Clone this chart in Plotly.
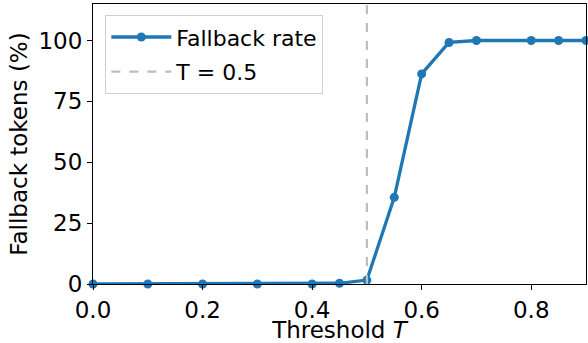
import plotly.graph_objects as go

thresholds = [0.0, 0.1, 0.2, 0.3, 0.4, 0.45, 0.5, 0.55, 0.6, 0.65, 0.7, 0.8, 0.85, 0.9]
fallback_rate = [0.0, 0.0, 0.0, 0.0, 0.0, 0.3, 1.6, 35.6, 86.3, 99.2, 100.0, 100.0, 100.0, 100.0]
ref_T = 0.5
y_max = 115
x_ticks = [0.0, 0.2, 0.4, 0.6, 0.8]
y_ticks = [0, 25, 50, 75, 100]

fig = go.Figure()
fig.add_trace(go.Scatter(
    x=thresholds, y=fallback_rate, mode="lines+markers", name="Fallback rate", legendgroup="a",
    line=dict(color="#1f77b4", width=3.3), marker=dict(size=9, color="#1f77b4"),
    cliponaxis=False))
fig.add_trace(go.Scatter(
    x=[ref_T, ref_T], y=[0, y_max], mode="lines", name="T = 0.5", legendgroup="b",
    line=dict(color="#bdbdbd", width=2.2, dash="dash")))

font = "DejaVu Sans"
fig.update_layout(
    width=588, height=343, paper_bgcolor="white", plot_bgcolor="white",
    margin=dict(l=93, r=2, t=4, b=59),
    font=dict(family=font, size=23, color="black"),
    legend=dict(x=0.025, y=0.96, xanchor="left", yanchor="top", traceorder="grouped",
                bordercolor="#d0d0d0", borderwidth=1, bgcolor="rgba(255,255,255,0.8)",
                font=dict(size=22, family=font), tracegroupgap=3, itemwidth=60),
    xaxis=dict(range=[0, 0.9], tickvals=x_ticks, ticktext=[f"{v:.1f}" for v in x_ticks],
               showgrid=False, zeroline=False, showline=True, linecolor="black",
               linewidth=1.2, mirror=True, ticks="outside", ticklen=5, tickcolor="black",
               tickfont=dict(size=23), automargin=False,
               title=dict(text="Threshold <i>T</i>", font=dict(size=23), standoff=5)),
    yaxis=dict(range=[0, y_max], tickvals=y_ticks, showgrid=False, zeroline=False,
               showline=True, linecolor="black", linewidth=1.2, mirror=True,
               ticks="outside", ticklen=5, tickcolor="black", tickfont=dict(size=23),
               automargin=False,
               title=dict(text="Fallback tokens (%)", font=dict(size=23), standoff=4)),
)
fig.write_html("out.html", config={"displayModeBar": False},
               post_script="document.body.style.margin='0';document.body.style.overflow='hidden';")
